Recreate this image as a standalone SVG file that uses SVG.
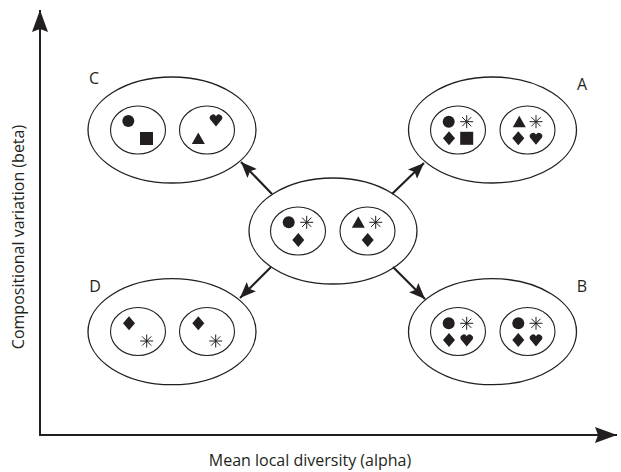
<svg xmlns="http://www.w3.org/2000/svg" width="621" height="472" viewBox="0 0 621 472">
<style>
.ax{stroke:#231f20;stroke-width:2;fill:none}
.arr{stroke:#231f20;stroke-width:2.2;fill:none}
.outer{fill:none;stroke:#231f20;stroke-width:1.3}
.inner{fill:none;stroke:#231f20;stroke-width:1.1}
.s{fill:#231f20}
.ast{stroke:#231f20;stroke-width:1;fill:none}
.lbl{font-family:"Open Sans","Liberation Sans",sans-serif;font-size:16px;fill:#231f20}
.axl{font-family:"Open Sans","Liberation Sans",sans-serif;font-size:16px;fill:#231f20}
</style>
<defs>
<marker id="ah" markerUnits="userSpaceOnUse" markerWidth="17" markerHeight="14" refX="16" refY="6.5" orient="auto">
<path d="M0,0 L16,6.5 L0,13 L3,6.5 Z" fill="#231f20"/>
</marker>
<marker id="axh" markerUnits="userSpaceOnUse" markerWidth="24" markerHeight="18" refX="22" refY="8" orient="auto">
<path d="M0,0 L22,8 L0,16 L3,8 Z" fill="#231f20"/>
</marker>
<circle id="dot" r="6" class="s"/>
<rect id="sq" x="-6.5" y="-6.5" width="13" height="13" class="s"/>
<polygon id="tri" points="0,-6 6.5,5.5 -6.5,5.5" class="s"/>
<polygon id="dia" points="0,-7 6,0 0,7 -6,0" class="s"/>
<path id="heart" d="M0,6.5 L-5.8,-0.5 A3.3,3.3 0 1 1 0,-3.8 A3.3,3.3 0 1 1 5.8,-0.5 Z" class="s"/>
<g id="ast" class="ast"><path d="M-6.5,0 H6.5 M0,-6.5 V6.5 M-4.6,-4.6 L4.6,4.6 M-4.6,4.6 L4.6,-4.6"/></g>
</defs>

<g id="axes">
<path class="ax" d="M40,435 V10" marker-end="url(#axh)"/>
<path class="ax" d="M39,435 H617" marker-end="url(#axh)"/>
<text class="axl" x="310" y="466" text-anchor="middle">Mean local diversity (alpha)</text>
<text class="axl" transform="translate(24,237) rotate(-90)" text-anchor="middle">Compositional variation (beta)</text>
</g>

<g id="connectors">
<path class="arr" d="M272,194 L241,162" marker-end="url(#ah)"/>
<path class="arr" d="M392,194 L424,163" marker-end="url(#ah)"/>
<path class="arr" d="M271,267 L240,298" marker-end="url(#ah)"/>
<path class="arr" d="M393,267 L425,299" marker-end="url(#ah)"/>
</g>

<g id="node-center">
<ellipse class="outer" cx="333" cy="231" rx="84" ry="53"/>
<ellipse class="inner" cx="298" cy="231" rx="27.5" ry="24"/>
<ellipse class="inner" cx="367.5" cy="231" rx="27.5" ry="24"/>
<use href="#dot" x="288.7" y="222.3"/>
<use href="#ast" x="306.7" y="222.3"/>
<use href="#dia" x="298.3" y="240"/>
<use href="#tri" x="358.3" y="222.3"/>
<use href="#ast" x="375.7" y="222.3"/>
<use href="#dia" x="367.7" y="240"/>
</g>

<g id="node-C">
<text class="lbl" x="94" y="84" text-anchor="middle">C</text>
<ellipse class="outer" cx="172" cy="130" rx="84" ry="53"/>
<ellipse class="inner" cx="138" cy="130" rx="27.5" ry="24"/>
<ellipse class="inner" cx="207" cy="130" rx="27.5" ry="24"/>
<use href="#dot" x="128.3" y="121"/>
<use href="#sq" x="146.5" y="138.5"/>
<use href="#heart" x="216" y="120"/>
<use href="#tri" x="198.3" y="138.5"/>
</g>

<g id="node-A">
<text class="lbl" x="582" y="90" text-anchor="middle">A</text>
<ellipse class="outer" cx="492.5" cy="130" rx="84" ry="53"/>
<ellipse class="inner" cx="458" cy="130" rx="27.5" ry="24"/>
<ellipse class="inner" cx="527.5" cy="130" rx="27.5" ry="24"/>
<use href="#dot" x="448.7" y="121.7"/>
<use href="#ast" x="466.7" y="121.7"/>
<use href="#dia" x="449" y="138.3"/>
<use href="#sq" x="466.7" y="138.3"/>
<use href="#tri" x="519.3" y="121.7"/>
<use href="#ast" x="536" y="121.7"/>
<use href="#dia" x="518.3" y="138.3"/>
<use href="#heart" x="536" y="138.3"/>
</g>

<g id="node-D">
<text class="lbl" x="95" y="292" text-anchor="middle">D</text>
<ellipse class="outer" cx="172" cy="331.7" rx="84" ry="53"/>
<ellipse class="inner" cx="138" cy="331.5" rx="27.5" ry="24"/>
<ellipse class="inner" cx="207" cy="331.5" rx="27.5" ry="24"/>
<use href="#dia" x="129" y="323.3"/>
<use href="#ast" x="146.7" y="341"/>
<use href="#dia" x="198.3" y="323.3"/>
<use href="#ast" x="215.7" y="341"/>
</g>

<g id="node-B">
<text class="lbl" x="582" y="292" text-anchor="middle">B</text>
<ellipse class="outer" cx="492.5" cy="331.7" rx="84" ry="53"/>
<ellipse class="inner" cx="458" cy="331.5" rx="27.5" ry="24"/>
<ellipse class="inner" cx="527.5" cy="331.5" rx="27.5" ry="24"/>
<use href="#dot" x="448.7" y="323.3"/>
<use href="#ast" x="466.7" y="323.3"/>
<use href="#dia" x="449" y="340"/>
<use href="#heart" x="466.7" y="340"/>
<use href="#dot" x="518.3" y="323.3"/>
<use href="#ast" x="536" y="323.3"/>
<use href="#dia" x="518.3" y="340"/>
<use href="#heart" x="536" y="340"/>
</g>
</svg>
